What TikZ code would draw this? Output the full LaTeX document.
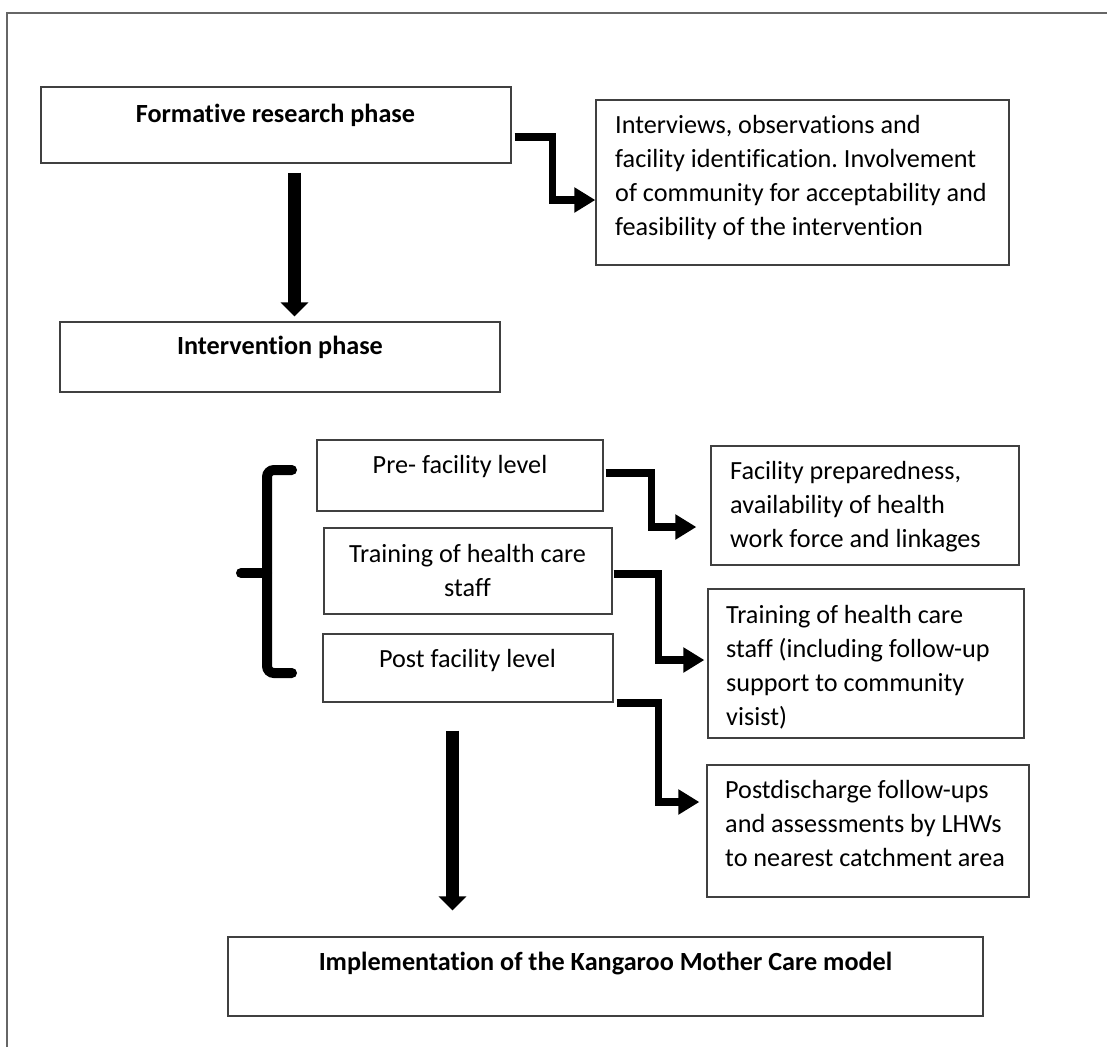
\documentclass[tikz,border=0pt]{standalone}
\usepackage{fontspec}
\setmainfont{Carlito}[Ligatures=NoCommon]
\usetikzlibrary{arrows.meta}
\frenchspacing

\newcommand{\boxlines}[2][l]{\begin{tabular}[t]{@{}#1@{}}#2\end{tabular}}

\begin{document}
\begin{tikzpicture}[x=1pt,y=-1pt,
  every node/.style={font=\fontsize{26.2}{34.3}\selectfont},
  box/.style={draw=black!75,line width=1.3pt,inner sep=0pt,rectangle},
  txt/.style={inner sep=0pt,anchor=base west},
  ctxt/.style={inner sep=0pt,anchor=base},
  btxt/.style={inner sep=0pt,anchor=base,font=\fontsize{26.2}{34.3}\selectfont\bfseries},
  elbow/.style={line width=7.5pt,-{Triangle[length=21pt,width=24pt]}},
  downarrow/.style={line width=12.5pt,-{Triangle[length=14pt,width=27pt]}}]

\useasboundingbox (0,0) rectangle (1107,1047);

% draw frame
\draw[black!60,line width=1.3pt] (7,1047) -- (7,13) -- (1107,13);

% add boxes
\node[box,minimum width=470,minimum height=76] (form) at (276,125) {};
\node[box,minimum width=440,minimum height=70] (interv) at (280,357) {};
\node[box,minimum width=413,minimum height=165] (formright) at (802.5,182.5) {};
\node[box,minimum width=286,minimum height=71] (pre) at (460,475.5) {};
\node[box,minimum width=288,minimum height=86] (train) at (468,571) {};
\node[box,minimum width=290,minimum height=68] (post) at (468,668) {};
\node[box,minimum width=308,minimum height=119] (preright) at (865,505.5) {};
\node[box,minimum width=316,minimum height=149] (trainright) at (866,663.5) {};
\node[box,minimum width=322,minimum height=132] (postright) at (868,831) {};
\node[box,minimum width=755,minimum height=79] (impl) at (605.5,976.5) {};

% add texts
\node[btxt] (formtxt) at (275.5,122) {Formative research phase};
\node[btxt] (intervtxt) at (280,354) {Intervention phase};
\node[txt] (formrighttxt) at (615,133) {\boxlines{Interviews, observations and\\facility identification. Involvement\\of community for acceptability and\\feasibility of the intervention}};
\node[ctxt] (pretxt) at (460,473) {Pre- facility level};
\node[ctxt] (traintxt) at (467.5,562) {\boxlines[c]{Training of health care\\staff}};
\node[ctxt] (posttxt) at (467.5,667) {Post facility level};
\node[txt] (prerighttxt) at (730,479) {\boxlines{Facility preparedness,\\availability of health\\work force and linkages}};
\node[txt] (trainrighttxt) at (726,623) {\boxlines{Training of health care\\staff (including follow-up\\support to community\\visist)}};
\node[txt] (postrighttxt) at (725,798) {\boxlines{Postdischarge follow-ups\\and assessments by LHWs\\to nearest catchment area}};
\node[btxt] (impltxt) at (605.5,970) {Implementation of the Kangaroo Mother Care model};

% draw brace
\draw[line width=10pt,line cap=round,rounded corners=7pt] (292,470) -- (267,470) -- (267,673) -- (292,673);
\draw[line width=10pt,line cap=round] (267,573) -- (241,573);

% draw arrows
\draw[downarrow,shorten <=9pt,shorten >=5pt] ([xshift=18.5pt]form.south) -- ([xshift=14.5pt]interv.north);
\draw[downarrow,shorten <=28pt,shorten >=26pt] ([xshift=-15.5pt]post.south) -- ([xshift=-153pt]impl.north);
\draw[elbow,shorten <=3pt] ([yshift=-12pt]form.east) -- ++(41,0) |- ([yshift=-17.5pt]formright.west);
\draw[elbow,shorten <=2pt,shorten >=14pt] ([yshift=2.5pt]pre.east) -- ++(48,0) |- ([yshift=-21.5pt]preright.west);
\draw[elbow,shorten <=1pt,shorten >=3pt] ([yshift=-3pt]train.east) -- ++(46,0) |- ([yshift=3.5pt]trainright.west);
\draw[elbow,shorten <=3pt,shorten >=7pt] ([yshift=-35pt]post.east) -- ++(45,0) |- ([yshift=29pt]postright.west);

\end{tikzpicture}
\end{document}
